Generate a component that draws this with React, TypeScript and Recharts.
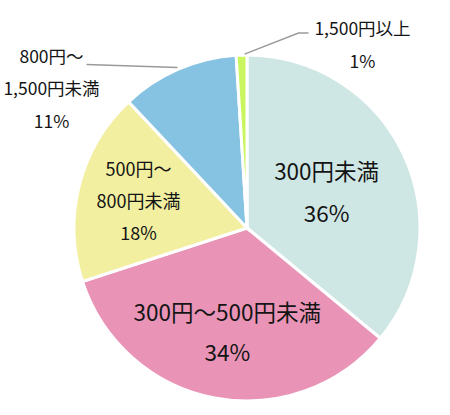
import { Cell, Pie, PieChart } from "recharts";

document.body.style.margin = "0";

const categories = ["300円未満", "300円〜500円未満", "500円〜800円未満", "800円〜1,500円未満", "1,500円以上"];
const shares = [36, 34, 18, 11, 1];
// how each category name is broken into lines on the chart
const nameLines = [["300円未満"], ["300円〜500円未満"], ["500円〜", "800円未満"], ["800円〜", "1,500円未満"], ["1,500円以上"]];
const colors = ["#cfe7e4", "#e994b7", "#f2efa0", "#86c3e2", "#c9f55f"];

const data = categories.map((name, i) => ({ name, value: shares[i] }));

const RAD = Math.PI / 180;
const FONT = '"Noto Sans CJK JP", "Noto Sans", sans-serif';

// inside labels: radius of block centre, font size, line spacing
const inside: Record<number, { r: number; size: number; gap: number }> = {
  0: { r: 88, size: 22.5, gap: 42 },
  1: { r: 105, size: 22.5, gap: 40 },
  2: { r: 112, size: 18, gap: 32 },
};

function polar(cx: number, cy: number, r: number, angle: number) {
  return { x: cx + r * Math.cos(-angle * RAD), y: cy + r * Math.sin(-angle * RAD) };
}

function renderLabel(props: any) {
  const { cx, cy, midAngle, outerRadius, index } = props;
  const lines = [...nameLines[index], `${shares[index]}%`];
  const cfg = inside[index];
  if (cfg) {
    const p = polar(cx, cy, cfg.r, midAngle);
    const top = p.y - ((lines.length - 1) * cfg.gap) / 2;
    return (
      <g key={`l${index}`}>
        {lines.map((t, k) => (
          <text key={k} x={p.x} y={top + k * cfg.gap} textAnchor="middle" dominantBaseline="central"
            fontFamily={FONT} fontSize={cfg.size} fill="#141414">
            {t}
          </text>
        ))}
      </g>
    );
  }
  const e = polar(cx, cy, outerRadius + 2, midAngle);
  if (index === 3) {
    const end = { x: e.x - 91, y: e.y - 3 };
    return (
      <g key={`l${index}`}>
        <polyline points={`${e.x},${e.y} ${end.x},${end.y}`} stroke="#9a9a9a" strokeWidth={1.5} fill="none" />
        {lines.map((t, k) => (
          <text key={k} x={end.x - 35} y={end.y - 9 + k * 32.5} textAnchor="middle" dominantBaseline="central"
            fontFamily={FONT} fontSize={17.5} fill="#141414">
            {t}
          </text>
        ))}
      </g>
    );
  }
  const knee = { x: e.x + 57, y: e.y - 20 };
  const end = { x: knee.x + 10, y: knee.y };
  return (
    <g key={`l${index}`}>
      <polyline points={`${e.x + 3},${e.y + 1} ${knee.x},${knee.y} ${end.x},${end.y}`} stroke="#9a9a9a" strokeWidth={1.5} fill="none" />
      {lines.map((t, k) => (
        <text key={k} x={end.x + 54} y={end.y - 6 + k * 33} textAnchor="middle" dominantBaseline="central"
          fontFamily={FONT} fontSize={17.5} fill="#141414">
          {t}
        </text>
      ))}
    </g>
  );
}

export default function App() {
  return (
    <div style={{ width: 450, height: 415, background: "#fff" }}>
      <PieChart width={450} height={415} margin={{ top: 0, right: 0, bottom: 0, left: 0 }}>
        <Pie
          data={data}
          dataKey="value"
          nameKey="name"
          cx={247}
          cy={228}
          outerRadius={173}
          startAngle={90}
          endAngle={-270}
          stroke="#fff"
          strokeWidth={3}
          label={renderLabel}
          labelLine={false}
          isAnimationActive={false}
        >
          {data.map((d, i) => (
            <Cell key={d.name} fill={colors[i]} />
          ))}
        </Pie>
      </PieChart>
    </div>
  );
}
